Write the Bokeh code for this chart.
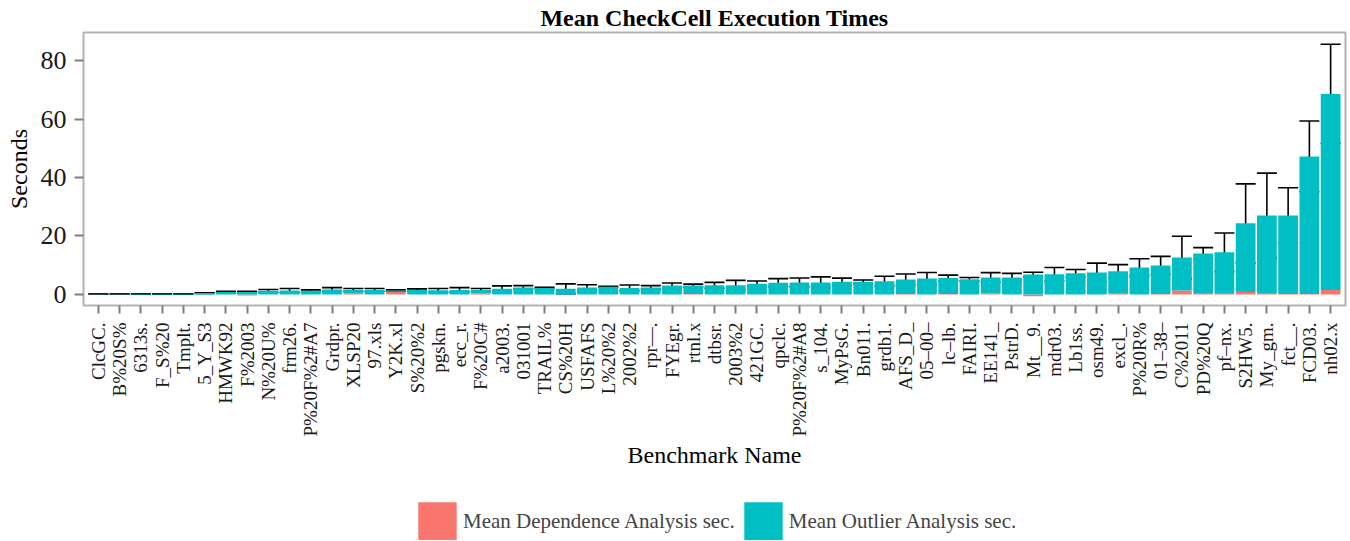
import math
from bokeh.plotting import figure
from bokeh.layouts import column
from bokeh.models import (ColumnDataSource, FactorRange, FixedTicker, Whisker, TeeHead,
                          Legend, LegendItem)
from bokeh.embed import file_html
from bokeh.resources import INLINE

benchmarks = ["ClcGC.", "B%20S%", "6313s.", "F_S%20", "Tmplt.", "5_Y_S3", "HMWK92", "F%2003",
              "N%20U%", "frm26.", "P%20F%2#A7", "Grdpr.", "XLSP20", "97.xls", "Y2K.xl", "S%20%2",
              "pgskn.", "ecc_r.", "F%20C#", "a2003.", "031001", "TRAIL%", "CS%20H", "USFAFS",
              "L%20%2", "2002%2", "rpr\u2014.", "FYEgr.", "rtnl.x", "dtbsr.", "2003%2", "421GC.",
              "qpclc.", "P%20F%2#A8", "s_104.", "MyPsG.", "Bn011.", "grdb1.", "AFS_D_",
              "05\u201300\u2013", "lc\u2013lb.", "FAIRI.", "EE141_", "PstrD.", "Mt__9.", "mdr03.",
              "Lb1ss.", "osm49.", "excl_.", "P%20R%", "01\u201338\u2013", "C%2011", "PD%20Q",
              "pf\u2013nx.", "S2HW5.", "My_gm.", "fct__.", "FCD03.", "nh02.x"]

dependence_sec = [0.02, 0.02, 0.0, 0.0, 0.0, 0.0, 0.0, -0.4, 0.0, 0.0, 0.0, 0.0, 0.3, 0.0, 1.0, 0.0,
                  0.0, 0.0, 0.4, 0.0, 0.0, 0.0, 0.0, 0.0, 0.0, 0.0, 0.0, 0.0, 0.15, 0.0, 0.0, 0.0,
                  0.0, 0.0, 0.0, 0.0, 0.0, 0.0, 0.15, 0.0, 0.15, 0.0, 0.4, 0.0, -0.6, 0.0,
                  0.0, 0.0, 0.2, 0.0, 0.15, 1.3, 0.5, 0.5, 0.8, 0.2, 0.15, 0.15, 1.5]

outlier_sec = [0.08, 0.08, 0.1, 0.1, 0.1, 0.45, 0.8, 0.8, 1.25, 1.3, 1.25, 1.7, 1.2, 1.5, 0.3, 1.5,
               1.4, 1.5, 1.1, 1.9, 2.4, 2.2, 1.9, 2.4, 2.6, 2.2, 2.4, 3.0, 2.85, 3.1, 3.1, 3.6,
               4.0, 4.1, 4.1, 4.3, 4.3, 4.5, 4.95, 5.4, 5.45, 5.2, 5.4, 5.8, 6.8, 6.9,
               7.2, 7.5, 7.7, 9.2, 9.75, 11.3, 13.5, 13.9, 23.5, 26.8, 26.85, 47.05, 67.1]

error_sec = [0.05, 0.05, 0.05, 0.05, 0.05, 0.1, 0.3, 0.3, 0.4, 0.7, 0.3, 0.6, 0.5, 0.5, 0.25, 0.4,
             0.6, 0.8, 0.5, 1.0, 0.6, 0.2, 1.7, 0.9, 0.15, 1.0, 0.6, 0.9, 0.5, 1.0, 1.7, 1.0,
             1.4, 1.5, 1.9, 1.25, 0.6, 1.7, 1.9, 2.1, 1.0, 0.6, 1.65, 1.4, 0.8, 2.3,
             1.3, 3.2, 2.3, 3.0, 3.1, 7.3, 2.0, 6.6, 13.5, 14.5, 9.5, 12.1, 17.0]

series_labels = ["Mean Dependence Analysis sec.", "Mean Outlier Analysis sec."]

SALMON = "#F8766D"
CYAN = "#00BFC4"
FONT = "Liberation Serif"

dep_bot = [min(d, 0.0) for d in dependence_sec]
dep_top = [max(d, 0.0) for d in dependence_sec]
out_bot = [max(d, 0.0) for d in dependence_sec]
out_top = [b + o for b, o in zip(out_bot, outlier_sec)]
upper = [t + e for t, e in zip(out_top, error_sec)]
lower = [t - e for t, e in zip(out_top, error_sec)]

src = ColumnDataSource(dict(cat=benchmarks, dep_bot=dep_bot, dep_top=dep_top,
                            out_bot=out_bot, out_top=out_top, upper=upper, lower=lower))

p = figure(x_range=FactorRange(*benchmarks, range_padding=0.2, range_padding_units="absolute"),
           y_range=(-3.8, 89.6), width=1348, height=484,
           output_backend="svg", toolbar_location=None,
           min_border_left=83, min_border_right=3, min_border_top=32, min_border_bottom=179)

p.vbar(x="cat", bottom="dep_bot", top="dep_top", width=0.93, source=src,
       fill_color=SALMON, line_color=None)
p.vbar(x="cat", bottom="out_bot", top="out_top", width=0.93, source=src,
       fill_color=CYAN, line_color=None)

wh = Whisker(base="cat", upper="upper", lower="lower", source=src,
             line_color="black", line_width=1.6,
             upper_head=TeeHead(size=20, line_width=1.6, line_color="black"),
             lower_head=TeeHead(size=20, line_width=1.6, line_color="black"))
p.add_layout(wh)

p.title.text = "Mean CheckCell Execution Times"
p.title.align = "center"
p.title.vertical_align = "top"
p.title.text_font = FONT
p.title.text_font_size = "24px"
p.title.text_font_style = "bold"
p.title.text_color = "black"
p.title.standoff = 0

p.xgrid.grid_line_color = None
p.ygrid.grid_line_color = None
p.outline_line_color = "#b3b3b3"
p.outline_line_width = 2
p.background_fill_color = "white"

p.yaxis.ticker = FixedTicker(ticks=[0, 20, 40, 60, 80])
for ax in (p.xaxis[0], p.yaxis[0]):
    ax.axis_line_color = None
    ax.major_tick_line_color = "#7f7f7f"
    ax.major_tick_line_width = 2
    ax.major_tick_in = 0
    ax.minor_tick_line_color = None
    ax.major_label_text_font = FONT
    ax.axis_label_text_font = FONT
    ax.axis_label_text_font_style = "normal"
    ax.axis_label_text_color = "black"
    ax.major_label_text_color = "#1a1a1a"

p.xaxis.major_tick_out = 8
p.yaxis.major_tick_out = 9
p.xaxis.major_label_orientation = math.pi / 2
p.xaxis.major_label_text_font_size = "19px"
p.yaxis.major_label_text_font_size = "26px"
p.xaxis.major_label_standoff = 9
p.yaxis.major_label_standoff = 8
p.xaxis.axis_label = "Benchmark Name"
p.yaxis.axis_label = "Seconds"
p.xaxis.axis_label_text_font_size = "24px"
p.yaxis.axis_label_text_font_size = "24px"
p.xaxis.axis_label_standoff = 2
p.yaxis.axis_label_standoff = 6

# legend strip below the chart
lf = figure(x_range=(0, 1), y_range=(0, 1), width=1348, height=56,
            output_backend="svg", toolbar_location=None,
            x_axis_type=None, y_axis_type=None,
            min_border_left=0, min_border_right=0, min_border_top=0, min_border_bottom=0)
lf.outline_line_color = None
lf.xgrid.grid_line_color = None
lf.ygrid.grid_line_color = None
r_dep = lf.vbar(x=[5], top=[5], bottom=[4], width=0.5, fill_color=SALMON, line_color=None)
r_out = lf.vbar(x=[5], top=[5], bottom=[4], width=0.5, fill_color=CYAN, line_color=None)

legend = Legend(items=[LegendItem(label=series_labels[0], renderers=[r_dep]),
                       LegendItem(label=series_labels[1], renderers=[r_out])],
                orientation="horizontal", location=(330, -5),
                glyph_width=48, glyph_height=48, label_height=48,
                label_text_font=FONT, label_text_font_size="21px", label_standoff=2,
                spacing=4, padding=0, margin=0,
                border_line_color=None, background_fill_alpha=0)
lf.add_layout(legend)

layout = column(p, lf, spacing=0)
open("out.html", "w").write(file_html(layout, INLINE))
